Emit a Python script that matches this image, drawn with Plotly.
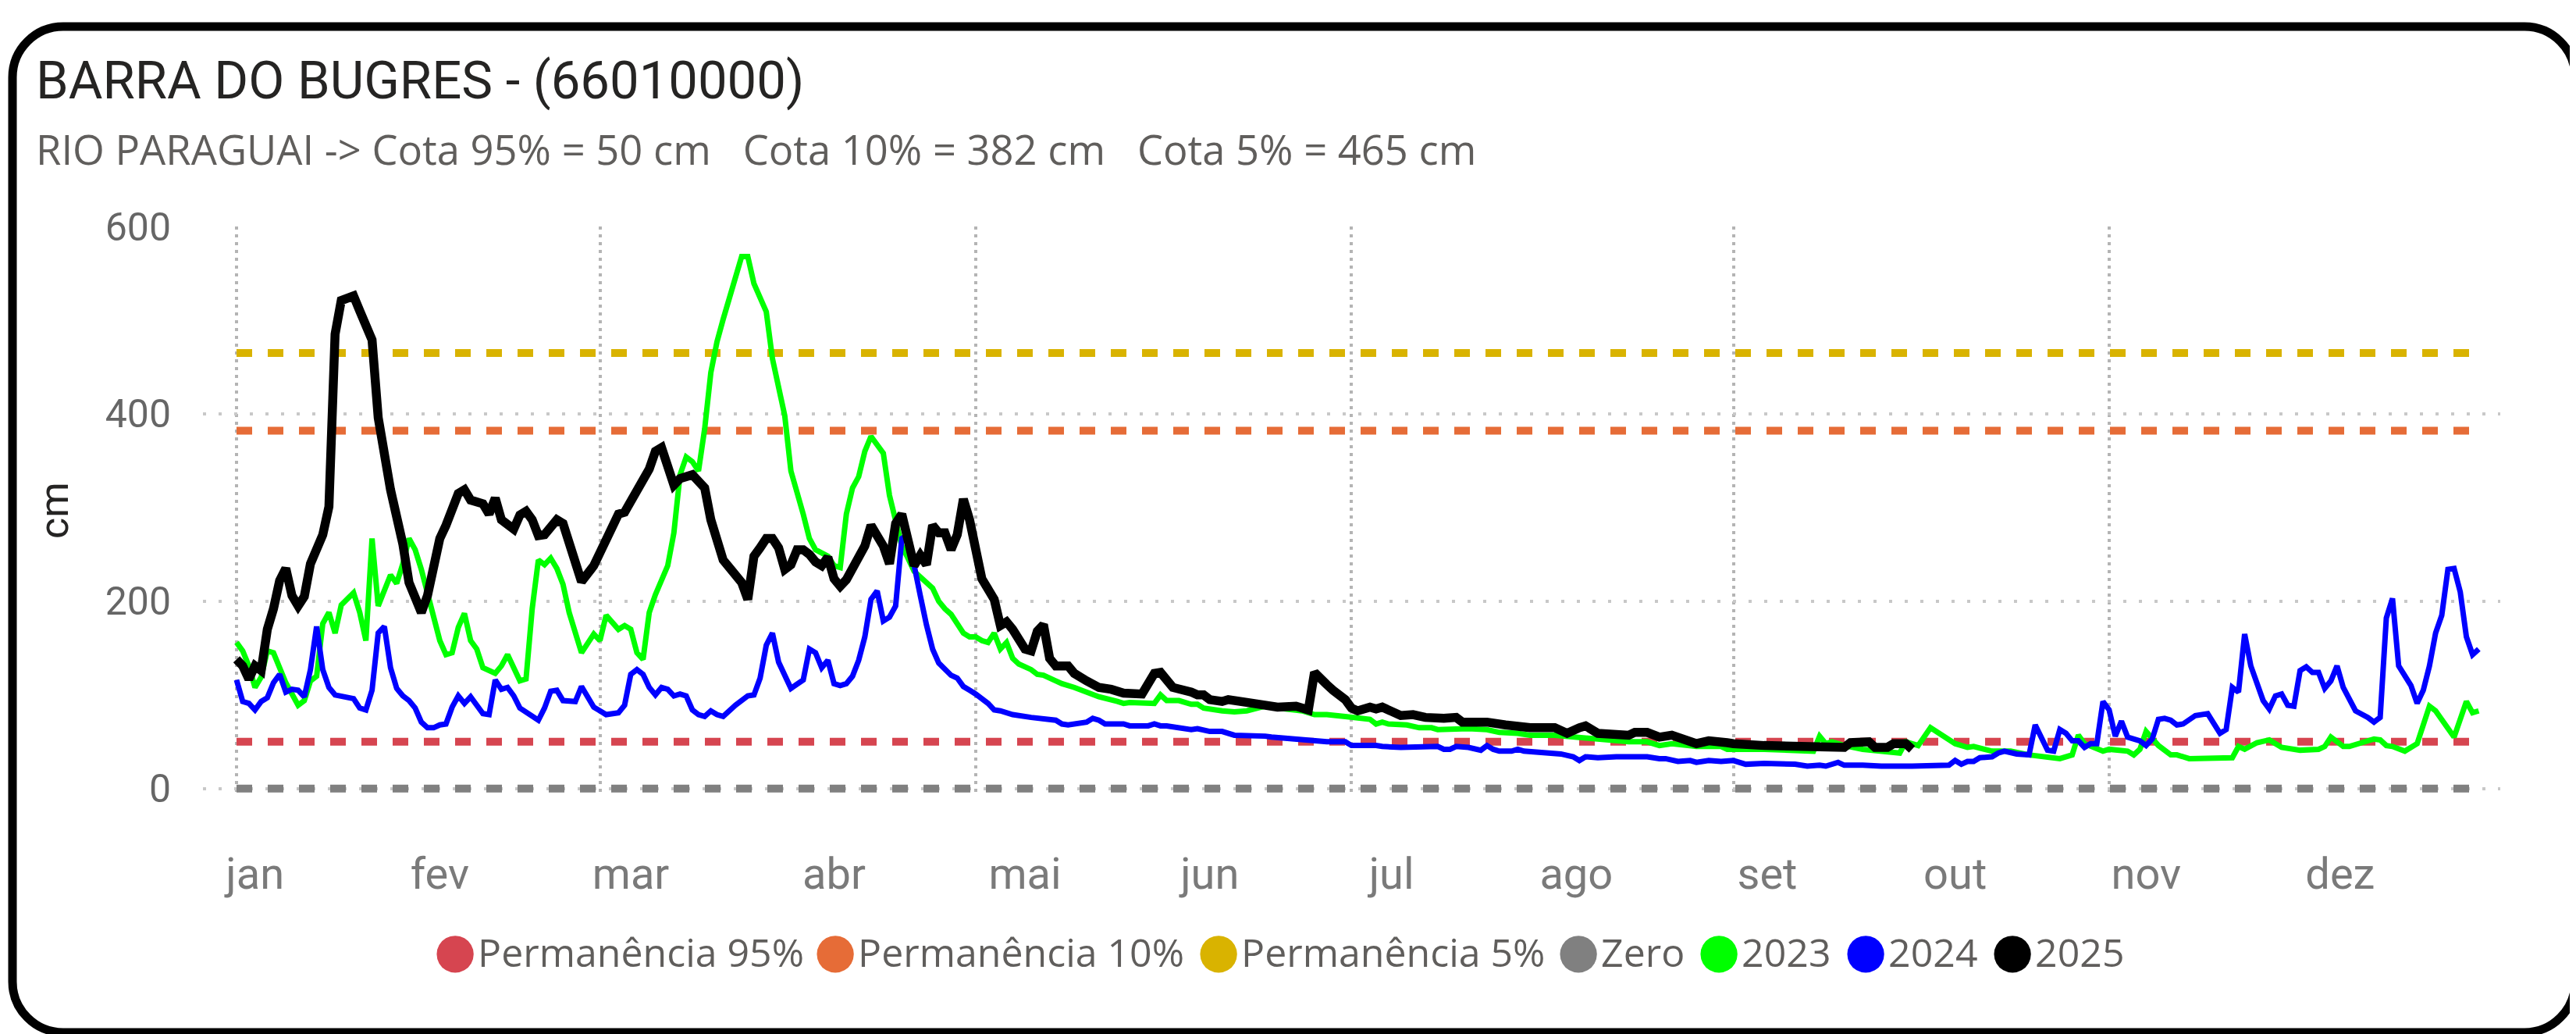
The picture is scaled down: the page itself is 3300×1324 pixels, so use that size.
import datetime as dt
import plotly.graph_objects as go

# ---------------- data ----------------
months = ["jan", "fev", "mar", "abr", "mai", "jun", "jul", "ago", "set", "out", "nov", "dez"]
month_label_days = [4, 34, 65, 98, 129, 159, 188.5, 218.5, 249.5, 280, 311, 342.5]

ref_names = ["Permanência 95%", "Permanência 10%", "Permanência 5%", "Zero"]
ref_values = [50, 382, 465, 0]
ref_colors = ["#D64550", "#E66C37", "#D9B300", "#808080"]
year_span = [1, 365]

days_2023 = [1, 2, 3, 4, 5, 6, 7, 8, 9, 11, 12, 13, 14, 15, 16, 17, 18, 20, 21, 22, 23, 24, 25, 26, 27, 28, 29, 30,
             31, 33, 34, 35, 36, 37, 38, 39, 40, 41, 43, 44, 45, 46, 47, 48, 49, 50, 51, 52, 53, 54, 55, 57, 58, 59,
             60, 61, 63, 64, 65, 66, 67, 68, 69, 70, 71, 72, 73, 74, 75, 76, 77, 78, 79, 80, 82, 83, 84, 85, 87, 88,
             90, 91, 93, 94, 95, 97, 98, 99, 100, 101, 102, 103, 104, 105, 106, 107, 109, 110, 111, 114, 115, 116,
             117, 118, 119, 120, 121, 122, 123, 124, 125, 126, 127, 128, 130, 131, 132, 134, 135, 137, 139, 140,
             141, 144, 145, 146, 149, 150, 151, 152, 154, 156, 157, 158, 161, 163, 165, 167, 168, 170, 174, 176,
             178, 181, 185, 186, 187, 188, 191, 193, 195, 196, 199, 201, 204, 206, 209, 211, 215, 218, 222, 227,
             230, 232, 234, 238, 242, 243, 249, 254, 257, 258, 259, 260, 262, 265, 268, 271, 272, 274, 276, 278,
             280, 282, 283, 286, 289, 292, 297, 299, 300, 301, 304, 305, 308, 309, 310, 311, 313, 315, 316, 318,
             322, 325, 326, 327, 329, 331, 333, 336, 339, 340, 341, 343, 344, 346, 348, 349, 350, 351, 353, 355,
             357, 358, 361, 363, 364, 365]
cota_2023 = [156, 147, 131, 108, 119, 147, 145, 127, 113, 89, 94, 115, 120, 176, 188, 166, 196, 209, 188, 158, 267,
             195, 210, 228, 219, 240, 267, 255, 234, 182, 158, 143, 145, 172, 187, 158, 149, 129, 123, 131, 143, 129,
             115, 117, 192, 244, 239, 246, 235, 218, 188, 145, 154, 165, 158, 185, 170, 174, 170, 145, 138, 188, 207,
             223, 238, 273, 335, 354, 349, 339, 384, 444, 477, 501, 547, 568, 568, 539, 509, 459, 398, 339, 293,
             267, 255, 248, 238, 236, 293, 321, 333, 360, 376, 368, 358, 313, 259, 246, 232, 214, 200, 192, 186, 176,
             166, 162, 162, 158, 156, 166, 149, 156, 139, 133, 127, 122, 121, 115, 112, 108, 103, 102, 98, 93, 91,
             92, 91, 91, 100, 94, 94, 90, 90, 86, 83, 82, 83, 87, 88, 86, 83, 79, 79, 77, 74, 69, 71, 69, 68, 65, 65,
             63, 64, 64, 63, 60, 59, 57, 57, 55, 52, 50, 50, 46, 48, 45, 45, 42, 42, 41, 40, 56, 48, 50, 46, 42, 40,
             38, 50, 46, 65, 57, 48, 44, 45, 40, 40, 36, 32, 36, 57, 48, 40, 42, 40, 36, 42, 61, 46, 36, 36, 32, 32,
             33, 45, 42, 49, 52, 44, 41, 42, 45, 55, 45, 45, 49, 53, 52, 46, 45, 40, 48, 88, 83, 55, 93, 81, 83]

days_2024 = [1, 2, 3, 4, 5, 6, 7, 8, 9, 10, 11, 12, 13, 14, 15, 16, 17, 20, 21, 22, 23, 24, 25, 26, 27, 28, 29, 30,
             31, 32, 33, 34, 35, 36, 37, 38, 39, 41, 42, 43, 44, 45, 46, 47, 50, 51, 52, 53, 54, 56, 57, 58, 59, 61,
             63, 64, 65, 66, 67, 68, 69, 70, 71, 72, 73, 74, 75, 76, 77, 78, 79, 80, 81, 82, 84, 85, 86, 87, 88, 89,
             91, 92, 93, 94, 95, 96, 97, 98, 99, 100, 101, 102, 103, 104, 105, 106, 107, 108, 109, 110, 111, 112,
             113, 114, 115, 116, 117, 118, 119, 120, 121, 123, 124, 125, 127, 130, 132, 134, 135, 136, 139, 140,
             141, 142, 145, 146, 149, 150, 151, 152, 156, 157, 159, 161, 163, 165, 167, 168, 169, 172, 175, 178,
             181, 182, 186, 187, 190, 192, 196, 197, 198, 199, 201, 203, 204, 205, 206, 208, 209, 210, 213, 216,
             218, 219, 220, 222, 225, 230, 232, 233, 235, 237, 238, 240, 242, 244, 246, 249, 254, 256, 258, 259,
             261, 262, 265, 268, 273, 279, 280, 281, 282, 283, 284, 286, 287, 288, 290, 292, 293, 294, 295, 296,
             297, 298, 299, 300, 301, 302, 303, 304, 305, 306, 307, 308, 310, 311, 312, 313, 314, 315, 316, 317,
             319, 321, 322, 323, 324, 325, 326, 327, 328, 329, 330, 331, 332, 333, 334, 335, 336, 337, 338, 339,
             340, 341, 342, 343, 344, 345, 347, 348, 349, 350, 351, 352, 354, 355, 356, 357, 358, 359, 360, 361,
             362, 363, 364, 365]
cota_2024 = [116, 93, 91, 84, 93, 97, 113, 122, 103, 106, 105, 98, 127, 173, 127, 108, 100, 96, 86, 84, 105, 166,
             173, 129, 107, 99, 94, 86, 71, 65, 65, 68, 69, 87, 99, 91, 98, 80, 79, 116, 106, 108, 99, 86, 73, 86, 104,
             105, 94, 93, 109, 97, 87, 79, 81, 89, 122, 127, 122, 108, 100, 108, 106, 99, 101, 99, 84, 79, 77, 83, 79,
             77, 83, 89, 99, 100, 118, 153, 166, 135, 107, 111, 116, 149, 145, 129, 137, 112, 110, 112, 120, 137, 162,
             202, 211, 179, 183, 195, 267, 271, 236, 206, 175, 149, 134, 128, 121, 118, 109, 105, 101, 91, 84, 83, 79,
             76, 74, 73, 69, 68, 71, 75, 73, 69, 69, 67, 67, 69, 67, 67, 63, 64, 61, 61, 57, 57, 56, 56, 55, 53, 52,
             50, 50, 46, 46, 45, 44, 44, 45, 42, 42, 45, 44, 41, 46, 42, 40, 40, 42, 40, 38, 37, 34, 30, 34, 33, 34,
             34, 32, 32, 29, 30, 28, 30, 29, 30, 26, 27, 26, 24, 25, 24, 28, 25, 25, 24, 24, 25, 30, 26, 29, 29, 33,
             34, 38, 40, 37, 36, 68, 53, 41, 40, 63, 59, 51, 51, 44, 48, 48, 93, 84, 56, 72, 55, 51, 46, 53, 74, 75,
             73, 68, 69, 78, 80, 68, 59, 63, 108, 103, 165, 131, 113, 94, 85, 99, 101, 89, 88, 126, 130, 124, 124,
             107, 115, 131, 108, 96, 83, 76, 71, 76, 182, 203, 131, 110, 91, 105, 131, 166, 185, 234, 235, 210, 162,
             143, 149]

days_2025 = [1, 2, 3, 4, 5, 6, 7, 8, 9, 10, 11, 12, 13, 14, 15, 16, 17, 18, 20, 21, 23, 24, 26, 28, 29, 31, 32, 34,
             35, 37, 38, 39, 41, 42, 43, 44, 46, 47, 48, 49, 50, 51, 53, 54, 56, 57, 59, 61, 63, 64, 65, 66, 68, 69,
             70, 72, 73, 75, 76, 77, 78, 79, 80, 81, 83, 84, 85, 86, 87, 88, 89, 90, 91, 92, 93, 94, 95, 96, 97, 98,
             99, 100, 102, 103, 104, 106, 107, 108, 109, 110, 111, 112, 113, 114, 115, 116, 117, 118, 119, 120, 121,
             122, 124, 125, 126, 127, 129, 130, 131, 132, 133, 134, 136, 137, 139, 141, 143, 145, 148, 150, 151,
             153, 156, 157, 158, 159, 161, 162, 165, 168, 170, 173, 175, 176, 177, 178, 179, 181, 182, 183, 185,
             186, 187, 188, 190, 192, 194, 197, 199, 200, 204, 207, 211, 215, 217, 219, 220, 222, 227, 228, 230,
             232, 234, 238, 240, 243, 244, 249, 254, 256, 258, 262, 263, 266, 267, 269, 270, 272, 273]
cota_2025 = [138, 131, 117, 131, 126, 170, 192, 222, 235, 206, 195, 205, 240, 255, 271, 301, 485, 521, 526, 510, 479,
             396, 319, 261, 220, 188, 206, 267, 281, 315, 319, 308, 304, 293, 310, 287, 277, 292, 296, 287, 270, 271,
             287, 283, 236, 221, 238, 267, 293, 295, 306, 317, 341, 360, 364, 324, 331, 335, 326, 321, 287, 263, 244,
             236, 220, 202, 248, 257, 267, 267, 257, 234, 239, 255, 255, 250, 242, 238, 247, 224, 216, 223, 248, 259,
             281, 259, 240, 283, 293, 269, 238, 249, 239, 281, 273, 273, 255, 271, 309, 287, 259, 224, 202, 174, 178,
             170, 149, 147, 168, 175, 139, 131, 131, 123, 115, 108, 106, 102, 101, 123, 124, 108, 103, 100, 100, 95,
             93, 95, 92, 89, 87, 88, 84, 124, 119, 111, 105, 95, 86, 83, 87, 85, 87, 84, 78, 79, 76, 75, 76, 71, 71,
             68, 65, 65, 59, 65, 67, 59, 57, 60, 60, 55, 57, 48, 51, 49, 48, 46, 46, 44, 44, 44, 49, 50, 44, 44, 48,
             48, 42]

series_names = ["2023", "2024", "2025"]
series_days = [days_2023, days_2024, days_2025]
series_vals = [cota_2023, cota_2024, cota_2025]
series_colors = ["#00FF00", "#0000FF", "#000000"]
series_widths = [7, 7, 11.5]

title_text = "BARRA DO BUGRES - (66010000)"
subtitle_text = ("RIO PARAGUAI -> Cota 95% = 50 cm\u00a0\u00a0 Cota 10% = 382 cm"
                 "\u00a0\u00a0 Cota 5% = 465 cm")

# ---------------- geometry / layout sizes ----------------
W, H = 3300, 1324
ML, MR, MT, MB = 252, 105, 282, 315
PW = W - ML - MR
PH = H - MT - MB
legend_entry_widths = [442, 446, 416, 135, 143, 143, None]


def px_x(px):
    return (px - ML) / PW


def px_y(py):
    return (H - MB - py) / PH


grid_days = [dt.date(2023, m, 1).timetuple().tm_yday for m in (1, 3, 5, 7, 9, 11)]

fig = go.Figure()

# reference lines
for name, val, col in zip(ref_names, ref_values, ref_colors):
    fig.add_trace(go.Scatter(x=year_span, y=[val, val], mode="lines",
                             line=dict(color=col, width=10, dash="20px,20px"),
                             showlegend=False, hoverinfo="skip"))

# yearly series
for name, d, v, col, w in zip(series_names, series_days, series_vals, series_colors, series_widths):
    fig.add_trace(go.Scatter(x=d, y=v, mode="lines", line=dict(color=col, width=w),
                             showlegend=False, name=name))

# legend entries (big circle glyphs)
for name, col, lw in zip(ref_names + series_names, ref_colors + series_colors, legend_entry_widths):
    label = (f'<span style="font-family:DejaVu Sans;font-size:62px;color:{col};letter-spacing:2px">\u25cf</span>'
             f'{name}')
    fig.add_trace(go.Scatter(x=[None], y=[None], mode="markers", name=label, legendwidth=lw,
                             marker=dict(color="rgba(0,0,0,0)", size=2), showlegend=True))


def rounded_path(x0, y0, x1, y1, r):
    k = 0.5523 * r
    X, Y = px_x, px_y
    return (f"M {X(x0 + r)},{Y(y0)} L {X(x1 - r)},{Y(y0)} "
            f"C {X(x1 - r + k)},{Y(y0)} {X(x1)},{Y(y0 + r - k)} {X(x1)},{Y(y0 + r)} "
            f"L {X(x1)},{Y(y1 - r)} "
            f"C {X(x1)},{Y(y1 - r + k)} {X(x1 - r + k)},{Y(y1)} {X(x1 - r)},{Y(y1)} "
            f"L {X(x0 + r)},{Y(y1)} "
            f"C {X(x0 + r - k)},{Y(y1)} {X(x0)},{Y(y1 - r + k)} {X(x0)},{Y(y1 - r)} "
            f"L {X(x0)},{Y(y0 + r)} "
            f"C {X(x0)},{Y(y0 + r - k)} {X(x0 + r - k)},{Y(y0)} {X(x0 + r)},{Y(y0)} Z")


fig.update_layout(
    width=W, height=H,
    margin=dict(l=ML, r=MR, t=MT, b=MB, pad=0),
    paper_bgcolor="white", plot_bgcolor="white",
    showlegend=True,
    legend=dict(orientation="h", x=px_x(508), xanchor="left", y=px_y(1210), yanchor="middle",
                font=dict(family="Open Sans", size=50, color="#605E5C"),
                bgcolor="rgba(0,0,0,0)", itemwidth=30, valign="middle"),
    xaxis=dict(range=[-4.45, 368.5], tickmode="array", tickvals=month_label_days, ticktext=months,
               showgrid=False, zeroline=False, showline=False, ticks="",
               tickfont=dict(family="Roboto", size=56, color="#7A7A7A"), ticklabelstandoff=64,
               minor=dict(tickmode="array", tickvals=grid_days, showgrid=True, griddash="4px,6px",
                          gridcolor="#B4B4B4", gridwidth=3.5, ticks="")),
    yaxis=dict(range=[-6, 600], tickmode="array", tickvals=[0, 200, 400, 600],
               showgrid=True, gridcolor="#C8C8C8", gridwidth=4, griddash="4px,16px",
               zeroline=False, showline=False, ticks="",
               tickfont=dict(family="Roboto", size=50, color="#666666"), ticklabelstandoff=40,
               title=dict(text="cm", font=dict(family="Roboto", size=52, color="#252423"), standoff=30)),
    annotations=[
        dict(text=title_text, xref="paper", yref="paper", x=px_x(36), y=px_y(95), xanchor="left",
             yanchor="middle", showarrow=False, font=dict(family="Roboto", size=67, color="#252423")),
        dict(text=subtitle_text, xref="paper", yref="paper", x=px_x(36), y=px_y(182), xanchor="left",
             yanchor="middle", showarrow=False, font=dict(family="Open Sans", size=52.5, color="#605E5C")),
    ],
    shapes=[dict(type="path", xref="paper", yref="paper", path=rounded_path(8, 26, 3291, 1314, 65),
                 line=dict(color="black", width=11), fillcolor="rgba(0,0,0,0)", layer="above")],
)

fig.write_html("out.html")
